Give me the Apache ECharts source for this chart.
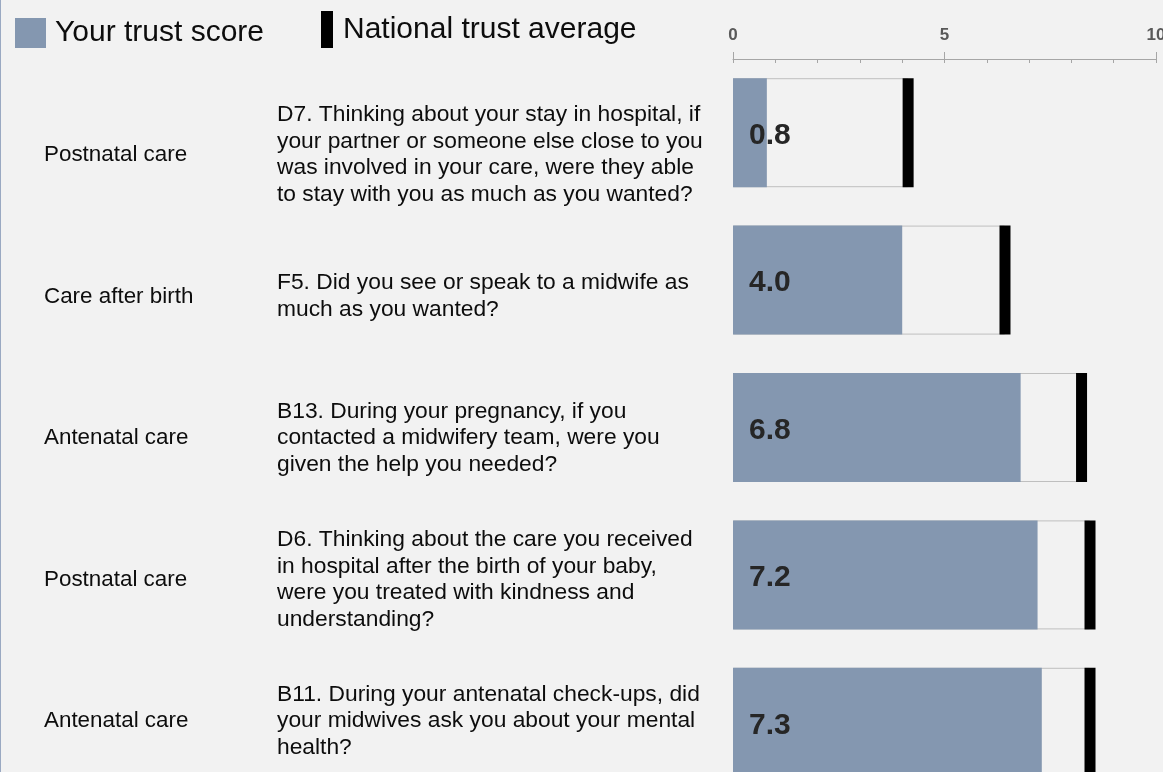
<!DOCTYPE html>
<html>
<head>
<meta charset="utf-8">
<title>Trust scores</title>
<script src="https://cdn.jsdelivr.net/npm/echarts@6/dist/echarts.min.js"></script>
<style>
  html, body { margin: 0; padding: 0; background: #f2f2f2; }
  #chart { width: 1163px; height: 772px; }
</style>
</head>
<body>
<div id="chart"></div>
<script>
// data
const sections = ['Postnatal care', 'Care after birth', 'Antenatal care', 'Postnatal care', 'Antenatal care'];
const questions = [
  'D7. Thinking about your stay in hospital, if\nyour partner or someone else close to you\nwas involved in your care, were they able\nto stay with you as much as you wanted?',
  'F5. Did you see or speak to a midwife as\nmuch as you wanted?',
  'B13. During your pregnancy, if you\ncontacted a midwifery team, were you\ngiven the help you needed?',
  'D6. Thinking about the care you received\nin hospital after the birth of your baby,\nwere you treated with kindness and\nunderstanding?',
  'B11. During your antenatal check-ups, did\nyour midwives ask you about your mental\nhealth?'
];
const trustScore = [0.8, 4.0, 6.8, 7.2, 7.3];
const nationalAvg = [4.14, 6.43, 8.24, 8.44, 8.44];
const rows = ['r1', 'r2', 'r3', 'r4', 'r5'];

const BAR_W = 109;
const FONT = '"Liberation Sans", Arial, sans-serif';

const chart = echarts.init(document.getElementById('chart'));

const option = {
  backgroundColor: '#f2f2f2',
  animation: false,
  textStyle: { fontFamily: FONT },
  graphic: [{
    type: 'line',
    shape: { x1: 0.5, y1: 0, x2: 0.5, y2: 772 },
    style: { stroke: '#9aa9c2', lineWidth: 1 }
  }],
  legend: [
    {
      data: [{ name: 'Your trust score', icon: 'rect' }],
      left: 10, top: 13,
      itemWidth: 31, itemHeight: 30,
      selectedMode: false,
      textStyle: { fontSize: 30, color: '#0d0d0d', fontFamily: FONT, padding: [0, 0, 0, 4] }
    },
    {
      data: [{ name: 'National trust average', icon: 'rect' }],
      left: 316, top: 6,
      itemWidth: 12, itemHeight: 37,
      selectedMode: false,
      textStyle: { fontSize: 30, color: '#0d0d0d', fontFamily: FONT, padding: [0, 0, 0, 5] }
    }
  ],
  grid: [
    // bars (last row runs off the bottom, as in the original)
    { left: 733, right: 7, top: 59, height: 737, outerBoundsMode: 'none', containLabel: false },
    // text columns
    { left: 720, width: 1, top: 84, height: 708, outerBoundsMode: 'none', containLabel: false }
  ],
  xAxis: [
    {
      type: 'value', gridIndex: 0, position: 'top',
      min: 0, max: 10, interval: 5,
      axisLine: { show: true, lineStyle: { color: '#a6a6a6', width: 1 } },
      axisTick: { show: true, length: 7, lineStyle: { color: '#a6a6a6' } },
      axisLabel: { fontSize: 17, fontWeight: 'bold', color: '#595959', margin: 15, fontFamily: FONT },
      splitLine: { show: false }
    },
    {
      // small ticks every 1
      type: 'value', gridIndex: 0, position: 'top',
      min: 0, max: 10, interval: 1,
      axisLine: { show: false },
      axisTick: { show: true, inside: true, length: 4, lineStyle: { color: '#a6a6a6' } },
      axisLabel: { show: false },
      splitLine: { show: false }
    },
    { type: 'value', gridIndex: 1, show: false }
  ],
  yAxis: [
    { type: 'category', gridIndex: 0, data: rows, inverse: true, show: false },
    {
      type: 'category', gridIndex: 1, position: 'left', data: sections, inverse: true,
      axisLine: { show: false }, axisTick: { show: false },
      axisLabel: { interval: 0, align: 'left', margin: 676, fontSize: 22.4, color: '#0d0d0d', fontFamily: FONT }
    },
    {
      type: 'category', gridIndex: 1, position: 'left', offset: 0, data: questions, inverse: true,
      axisLine: { show: false }, axisTick: { show: false },
      axisLabel: { interval: 0, align: 'left', margin: 443, fontSize: 22.8, lineHeight: 26.7, color: '#0d0d0d', fontFamily: FONT }
    }
  ],
  series: [
    {
      // outline box up to the national average
      name: 'box', type: 'bar', xAxisIndex: 0, yAxisIndex: 0,
      data: nationalAvg, barWidth: BAR_W, barGap: '-100%',
      itemStyle: { color: '#f2f2f2', borderColor: '#bfbfbf', borderWidth: 1 },
      silent: true
    },
    {
      name: 'Your trust score', type: 'bar', xAxisIndex: 0, yAxisIndex: 0,
      data: trustScore, barWidth: BAR_W, barGap: '-100%',
      itemStyle: { color: '#8497b0' },
      label: {
        show: true, position: 'insideLeft', distance: 16, offset: [0, 3],
        formatter: (p) => p.value.toFixed(1),
        fontSize: 30, fontWeight: 'bold', color: '#262626', fontFamily: FONT
      },
      z: 3
    },
    {
      name: 'National trust average', type: 'custom', xAxisIndex: 0, yAxisIndex: 0,
      data: nationalAvg.map((v, i) => [v, i]),
      encode: { x: 0, y: 1 },
      itemStyle: { color: '#000' },
      renderItem: function (params, api) {
        const pt = api.coord([api.value(0), api.value(1)]);
        return {
          type: 'rect',
          shape: { x: pt[0] - 5.5, y: pt[1] - BAR_W / 2, width: 11, height: BAR_W },
          style: { fill: '#000' }
        };
      },
      z: 4
    }
  ]
};

chart.setOption(option);
</script>
</body>
</html>
